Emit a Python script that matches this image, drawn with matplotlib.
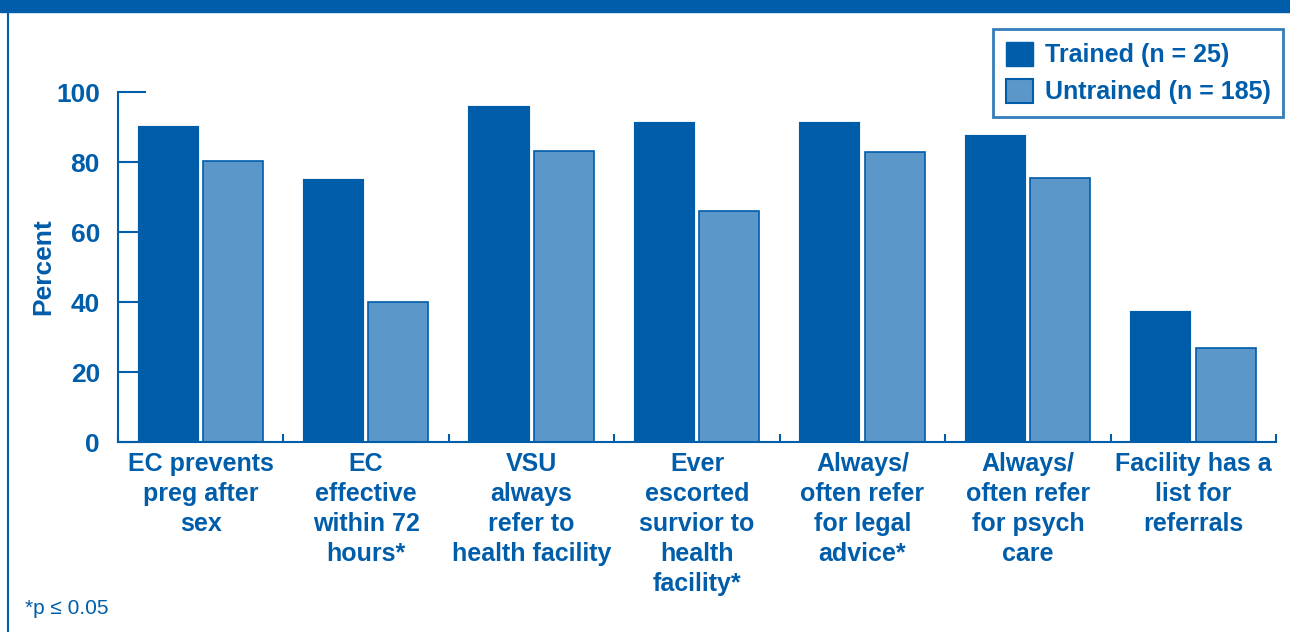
import numpy as np
import matplotlib.pyplot as plt
from matplotlib.patches import Rectangle, Patch

categories = [
    "EC prevents\npreg after\nsex",
    "EC\neffective\nwithin 72\nhours*",
    "VSU\nalways\nrefer to\nhealth facility",
    "Ever\nescorted\nsurvior to\nhealth\nfacility*",
    "Always/\noften refer\nfor legal\nadvice*",
    "Always/\noften refer\nfor psych\ncare",
    "Facility has a\nlist for\nreferrals",
]
trained = [90.5, 75.4, 96.3, 91.7, 91.7, 88.0, 37.7]
untrained = [80.2, 40.0, 83.1, 66.0, 82.9, 75.4, 26.9]
yticks = [0, 20, 40, 60, 80, 100]

dark = "#005DAA"
light = "#5B97C9"

plt.rcParams["font.family"] = ["Liberation Sans", "DejaVu Sans"]

fig = plt.figure(figsize=(12.9, 6.32), dpi=100)
ax = fig.add_axes([118 / 1290, 1 - 442 / 632, (1276 - 118) / 1290, (442 - 92) / 632])

x = np.arange(len(categories))
ax.bar(x - 0.2, trained, width=0.375, color=dark, edgecolor="white", linewidth=0.6,
       label="Trained (n = 25)")
ax.bar(x + 0.195, untrained, width=0.363, color=light, edgecolor=dark, linewidth=1.2,
       label="Untrained (n = 185)")

ax.set_xlim(-0.5, len(categories) - 0.5)
ax.set_ylim(0, 100)
ax.set_yticks(yticks)
ax.set_yticklabels([str(v) for v in yticks], fontsize=19, fontweight="bold", color=dark)
ax.tick_params(axis="y", direction="in", length=20, width=1.5, color=dark, pad=13)

ax.set_xticks(x)
ax.set_xticklabels(categories, fontsize=18, fontweight="bold", color=dark, linespacing=1.32)
ax.tick_params(axis="x", which="major", length=0, pad=7)
ax.set_xticks(np.arange(-0.5, len(categories), 1), minor=True)
ax.tick_params(axis="x", which="minor", direction="in", length=6, width=1.5, color=dark)

for s in ["top", "right"]:
    ax.spines[s].set_visible(False)
for s in ["left", "bottom"]:
    ax.spines[s].set_color(dark)
    ax.spines[s].set_linewidth(1.5)

ax.set_ylabel("Percent", fontsize=19, fontweight="bold", color=dark, labelpad=0.5)

handles = [Patch(facecolor=dark, edgecolor=dark), Patch(facecolor=light, edgecolor=dark, linewidth=1.5)]
leg = fig.legend(handles, ["Trained (n = 25)", "Untrained (n = 185)"],
                 loc="upper right", bbox_to_anchor=(1283 / 1290, 1 - 29 / 632),
                 fontsize=18, frameon=True, fancybox=False, handlelength=1.1,
                 handleheight=1.15, handletextpad=0.45, labelspacing=0.45, borderpad=0.5,
                 borderaxespad=0)
leg.get_frame().set_edgecolor(dark)
leg.get_frame().set_linewidth(2)
for t in leg.get_texts():
    t.set_color(dark)
    t.set_fontweight("bold")

# top banner and left border
fig.patches.append(Rectangle((0, 1 - 12 / 632), 1, 12 / 632, transform=fig.transFigure,
                             color=dark, zorder=0))
fig.add_artist(plt.Line2D([8 / 1290, 8 / 1290], [0, 1], transform=fig.transFigure,
                          color=dark, linewidth=1.5))

fig.text(25 / 1290, 1 - 608 / 632, "*p \u2264 0.05", fontsize=15, color=dark, va="center")

fig.savefig("out.png", dpi=100)
